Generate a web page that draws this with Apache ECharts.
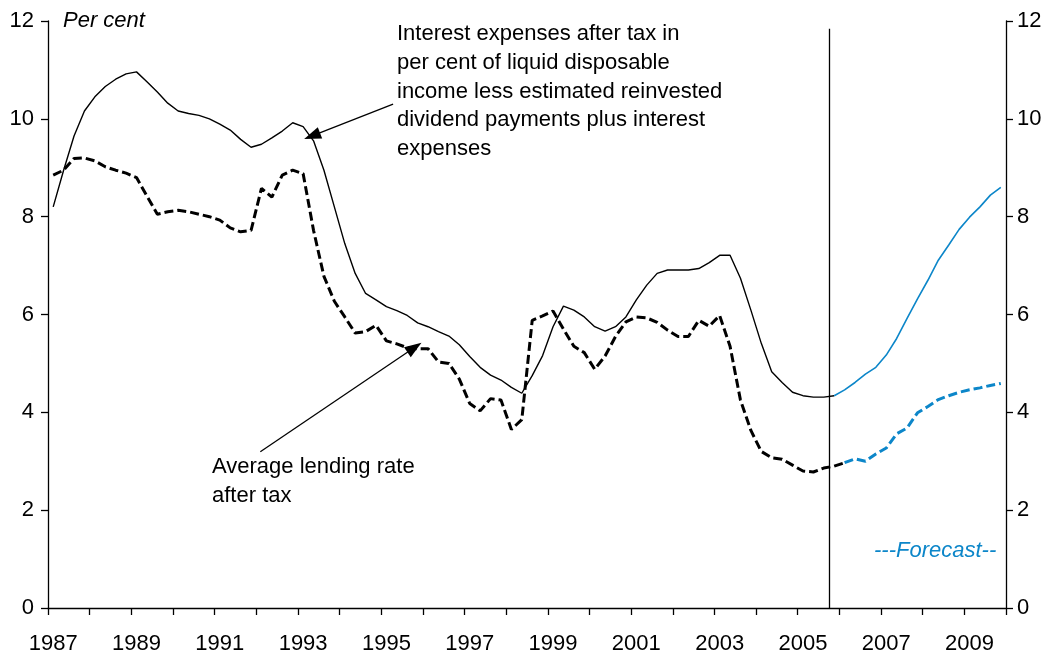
<!DOCTYPE html>
<html>
<head>
<meta charset="utf-8">
<title>Interest expenses and average lending rate after tax</title>
<script src="https://cdn.jsdelivr.net/npm/echarts@6/dist/echarts.min.js"></script>
<style>
  html, body { margin: 0; padding: 0; background: #fff; }
  #chart { width: 1052px; height: 657px; }
</style>
</head>
<body>
<div id="chart"></div>
<script>
// Quarterly categories 1987Q1 .. 2009Q4
const years = [];
for (let y = 1987; y <= 2009; y++) years.push(y);
const categories = [];
years.forEach(y => ['Q1', 'Q2', 'Q3', 'Q4'].forEach(q => categories.push(y + q)));

// Interest expenses after tax, per cent of liquid disposable income (adjusted)
const interestExpenses = [
  8.20, 8.95, 9.65, 10.16, 10.45, 10.66, 10.81, 10.92,
  10.96, 10.76, 10.55, 10.32, 10.16, 10.11, 10.07, 10.00,
  9.89, 9.77, 9.58, 9.42, 9.48, 9.61, 9.75, 9.92,
  9.84, 9.55, 8.95, 8.20, 7.45, 6.84, 6.43, 6.30,
  6.16, 6.08, 5.98, 5.83, 5.75, 5.65, 5.56, 5.38,
  5.14, 4.92, 4.76, 4.66, 4.51, 4.39, 4.75, 5.16,
  5.75, 6.17, 6.09, 5.95, 5.75, 5.66, 5.75, 5.95,
  6.30, 6.60, 6.84, 6.91, 6.91, 6.91, 6.94, 7.06,
  7.21, 7.21, 6.74, 6.09, 5.41, 4.83, 4.61, 4.41,
  4.34, 4.31, 4.31, 4.34, 4.46, 4.61, 4.78, 4.92,
  5.17, 5.51, 5.92, 6.32, 6.70, 7.11, 7.42, 7.74,
  7.99, 8.20, 8.44, 8.60
];

// Average lending rate after tax
const lendingRate = [
  8.85, 8.95, 9.19, 9.20, 9.14, 9.02, 8.95, 8.89,
  8.80, 8.42, 8.05, 8.10, 8.13, 8.10, 8.05, 8.00,
  7.93, 7.77, 7.69, 7.72, 8.58, 8.40, 8.85, 8.95,
  8.88, 7.72, 6.78, 6.27, 5.95, 5.62, 5.65, 5.78,
  5.46, 5.40, 5.32, 5.30, 5.30, 5.03, 5.00, 4.68,
  4.18, 4.03, 4.28, 4.25, 3.65, 3.85, 5.88, 5.97,
  6.07, 5.70, 5.35, 5.22, 4.88, 5.15, 5.55, 5.85,
  5.95, 5.93, 5.84, 5.68, 5.55, 5.55, 5.88, 5.76,
  5.98, 5.35, 4.25, 3.63, 3.20, 3.07, 3.04, 2.92,
  2.80, 2.78, 2.86, 2.90, 2.97, 3.05, 3.00, 3.15,
  3.27, 3.56, 3.68, 3.99, 4.12, 4.26, 4.34, 4.41,
  4.46, 4.50, 4.55, 4.59
];

// First forecast quarter of each series (index into categories)
const interestForecastStart = 75;
const lendingForecastStart = 76;

const yTicks = { min: 0, max: 12, step: 2 };

const BLUE = '#0c86c9';
const FONT = "'Liberation Sans', Arial, sans-serif";

const splitAt = (arr, idx, past) =>
  arr.map((v, i) => (past ? (i <= idx ? v : null) : (i >= idx ? v : null)));

const chart = echarts.init(document.getElementById('chart'), null, { renderer: 'canvas' });

const axisText = { color: '#000', fontSize: 22, fontFamily: FONT };
const blackLine = { color: '#000', width: 1.3 };

const yAxisBase = {
  type: 'value',
  min: yTicks.min,
  max: yTicks.max,
  interval: yTicks.step,
  splitLine: { show: false },
  axisLine: { show: true, lineStyle: blackLine },
  axisTick: { show: true, inside: false, length: 7, lineStyle: blackLine }
};

chart.setOption({
  animation: false,
  backgroundColor: '#fff',
  textStyle: { fontFamily: FONT },
  grid: { left: 48, right: 46, top: 21, bottom: 49, containLabel: false, outerBoundsMode: 'none' },
  xAxis: [
    {
      type: 'category',
      data: categories,
      boundaryGap: true,
      axisLine: { show: true, onZero: false, lineStyle: blackLine },
      axisTick: { show: true, interval: 3, alignWithLabel: false, length: 7, lineStyle: blackLine },
      axisLabel: Object.assign({
        interval: 7,
        margin: 25,
        formatter: v => v.slice(0, 4)
      }, axisText),
      splitLine: { show: false }
    },
    {
      // helper axis in quarter units for annotations
      type: 'value',
      min: 0,
      max: categories.length,
      show: false
    }
  ],
  yAxis: [
    Object.assign({ position: 'left', axisLabel: Object.assign({ margin: 14 }, axisText) }, yAxisBase),
    Object.assign({ position: 'right', axisLabel: Object.assign({ margin: 11 }, axisText) }, yAxisBase)
  ],
  series: [
    {
      name: 'Interest expenses after tax',
      type: 'line',
      data: splitAt(interestExpenses, interestForecastStart, true),
      symbol: 'none',
      lineStyle: { color: '#000', width: 1.4 },
      z: 3
    },
    {
      name: 'Interest expenses after tax (forecast)',
      type: 'line',
      data: splitAt(interestExpenses, interestForecastStart, false),
      symbol: 'none',
      lineStyle: { color: BLUE, width: 1.6 },
      z: 3
    },
    {
      name: 'Average lending rate after tax',
      type: 'line',
      data: splitAt(lendingRate, lendingForecastStart, true),
      symbol: 'none',
      lineStyle: { color: '#000', width: 3, type: [9, 4] },
      z: 3
    },
    {
      name: 'Average lending rate after tax (forecast)',
      type: 'line',
      data: splitAt(lendingRate, lendingForecastStart, false),
      symbol: 'none',
      lineStyle: { color: BLUE, width: 3, type: [9, 4] },
      z: 3
    },
    {
      name: 'annotations',
      type: 'line',
      xAxisIndex: 1,
      yAxisIndex: 0,
      data: [],
      markLine: {
        silent: true,
        animation: false,
        symbol: 'none',
        label: { show: false },
        lineStyle: { color: '#000', width: 1.3, type: 'solid' },
        data: [
          // forecast boundary
          [{ coord: [interestForecastStart, 0] }, { coord: [interestForecastStart, 11.84] }],
          // arrow to interest expenses line
          [{ coord: [33.14, 10.30], symbol: 'none' },
           { coord: [25.36, 9.65], symbol: 'triangle', symbolSize: [12, 17] }],
          // arrow to lending rate line
          [{ coord: [20.39, 3.195], symbol: 'none' },
           { coord: [35.19, 5.325], symbol: 'triangle', symbolSize: [12, 17] }]
        ]
      },
      z: 4
    }
  ],
  graphic: [
    {
      type: 'text', left: 63, top: 10,
      style: { text: 'Per cent', font: 'italic 22px ' + FONT, fill: '#000' }
    },
    {
      type: 'text', left: 397, top: 20,
      style: {
        text: 'Interest expenses after tax in\nper cent of liquid disposable\nincome less estimated reinvested\ndividend payments plus interest\nexpenses',
        font: '22px ' + FONT, fill: '#000', lineHeight: 28.6
      }
    },
    {
      type: 'text', left: 212, top: 453,
      style: {
        text: 'Average lending rate\nafter tax',
        font: '22px ' + FONT, fill: '#000', lineHeight: 28.4
      }
    },
    {
      type: 'text', left: 874, top: 540,
      style: { text: '---Forecast--', font: 'italic 22px ' + FONT, fill: BLUE }
    }
  ]
});
</script>
</body>
</html>
